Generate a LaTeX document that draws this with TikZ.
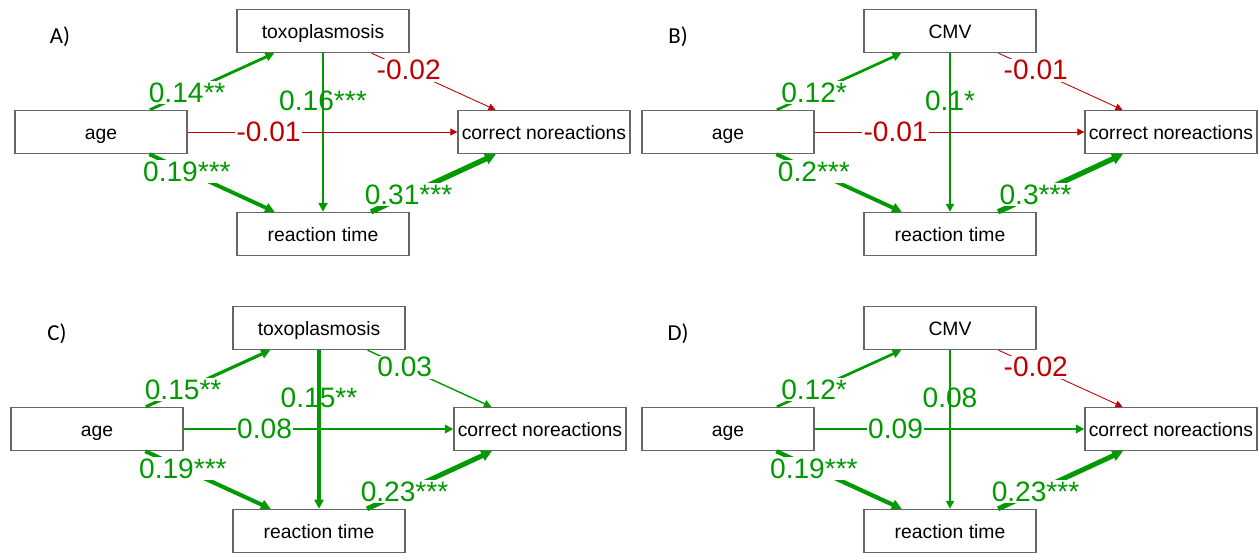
\documentclass[tikz,border=0pt]{standalone}
\usepackage{fontspec}
\setmainfont{Liberation Sans}
\newfontfamily\panelfont{Carlito}
\usetikzlibrary{arrows.meta}

\definecolor{semgreen}{HTML}{009900}
\definecolor{semred}{HTML}{C00000}
\definecolor{boxgray}{HTML}{666666}

\tikzset{
  var/.style={draw=boxgray, line width=0.8pt, fill=white, minimum width=3.44cm,
    minimum height=0.86cm, inner sep=0pt, text height=8pt, text depth=0pt,
    font=\fontsize{11}{13}\selectfont},
  posedge/.style={draw=semgreen, line width=#1, -{Triangle[length=3.5pt 0.9, width=3.5pt 0.9]}},
  negedge/.style={draw=semred, line width=#1, -{Triangle[length=3.5pt 0.9, width=3.5pt 0.9]}},
  poslabel/.style={pos=0.3, text=semgreen, fill=white, inner sep=0.8pt, font=\fontsize{16}{16}\selectfont},
  neglabel/.style={poslabel, text=semred},
  vertlabel/.style={poslabel, fill=none},
  panel/.style={font=\panelfont\fontsize{13}{13}\selectfont}
}

\begin{document}
\begin{tikzpicture}[x=0.02cm, y=-0.02cm]
    \useasboundingbox (0,0) rectangle (1258,552);
    \clip (0,0) rectangle (1258,552);

    % Panel A: toxoplasmosis, first model
    \begin{scope}
        \node[panel] (labA) at (60,37) {A)};
        \node[var] (ageA) at (101,132) {age};
        \node[var] (toxoA) at (323,31) {toxoplasmosis};
        \node[var] (corrA) at (544,132) {correct noreactions};
        \node[var] (rtA) at (323,234) {reaction time};

        \draw[posedge=1.7pt] (toxoA) -- node[vertlabel] {0.16***} (rtA);
        \draw[posedge=1.6pt] (ageA) -- node[poslabel] {0.14**} (toxoA);
        \draw[negedge=0.5pt] (toxoA) -- node[neglabel] {-0.02} (corrA);
        \draw[negedge=0.5pt] (ageA) -- node[neglabel] {-0.01} (corrA);
        \draw[posedge=2.2pt] (ageA) -- node[poslabel] {0.19***} (rtA);
        \draw[posedge=3pt] (rtA) -- node[poslabel] {0.31***} (corrA);
    \end{scope}

    % Panel B: CMV, first model
    \begin{scope}[shift={(627,0)}]
        \node[panel] (labB) at (51,37) {B)};
        \node[var] (ageB) at (101,132) {age};
        \node[var] (cmvB) at (323,31) {CMV};
        \node[var] (corrB) at (544,132) {correct noreactions};
        \node[var] (rtB) at (323,234) {reaction time};

        \draw[posedge=1.1pt] (cmvB) -- node[vertlabel] {0.1*} (rtB);
        \draw[posedge=1.5pt] (ageB) -- node[poslabel] {0.12*} (cmvB);
        \draw[negedge=0.5pt] (cmvB) -- node[neglabel] {-0.01} (corrB);
        \draw[negedge=0.5pt] (ageB) -- node[neglabel] {-0.01} (corrB);
        \draw[posedge=2.2pt] (ageB) -- node[poslabel] {0.2***} (rtB);
        \draw[posedge=3pt] (rtB) -- node[poslabel] {0.3***} (corrB);
    \end{scope}

    % Panel C: toxoplasmosis, second model
    \begin{scope}[shift={(-4,297)}]
        \node[panel] (labC) at (61,37) {C)};
        \node[var] (ageC) at (101,132) {age};
        \node[var] (toxoC) at (323,31) {toxoplasmosis};
        \node[var] (corrC) at (544,132) {correct noreactions};
        \node[var] (rtC) at (323,234) {reaction time};

        \draw[posedge=1.9pt] (toxoC) -- node[vertlabel] {0.15**} (rtC);
        \draw[posedge=1.8pt] (ageC) -- node[poslabel] {0.15**} (toxoC);
        \draw[posedge=0.8pt] (toxoC) -- node[poslabel] {0.03} (corrC);
        \draw[posedge=1.4pt] (ageC) -- node[poslabel] {0.08} (corrC);
        \draw[posedge=2.3pt] (ageC) -- node[poslabel] {0.19***} (rtC);
        \draw[posedge=2.8pt] (rtC) -- node[poslabel] {0.23***} (corrC);
    \end{scope}

    % Panel D: CMV, second model
    \begin{scope}[shift={(627,297)}]
        \node[panel] (labD) at (51,37) {D)};
        \node[var] (ageD) at (101,132) {age};
        \node[var] (cmvD) at (323,31) {CMV};
        \node[var] (corrD) at (544,132) {correct noreactions};
        \node[var] (rtD) at (323,234) {reaction time};

        \draw[posedge=1.1pt] (cmvD) -- node[vertlabel] {0.08} (rtD);
        \draw[posedge=1.5pt] (ageD) -- node[poslabel] {0.12*} (cmvD);
        \draw[negedge=0.5pt] (cmvD) -- node[neglabel] {-0.02} (corrD);
        \draw[posedge=1.4pt] (ageD) -- node[poslabel] {0.09} (corrD);
        \draw[posedge=2.4pt] (ageD) -- node[poslabel] {0.19***} (rtD);
        \draw[posedge=2.8pt] (rtD) -- node[poslabel] {0.23***} (corrD);
    \end{scope}
\end{tikzpicture}
\end{document}
